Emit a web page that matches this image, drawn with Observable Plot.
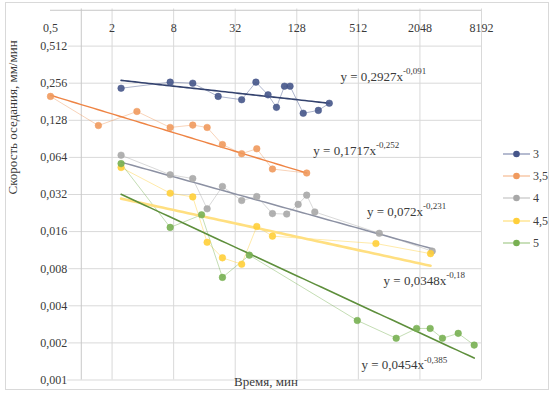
<!DOCTYPE html>
<html>
<head>
<meta charset="utf-8">
<script src="https://cdn.jsdelivr.net/npm/d3@7"></script>
<script src="https://cdn.jsdelivr.net/npm/@observablehq/plot@0.6"></script>
<style>
  html, body { margin: 0; padding: 0; background: #fff; }
  #wrap { position: relative; width: 553px; height: 396px; overflow: hidden; font-family: "Liberation Serif", "DejaVu Serif", serif; }
  #frame { position: absolute; left: 5px; top: 2px; width: 544px; height: 388px; border: 1px solid #d9d9d9; box-sizing: border-box; pointer-events: none; }
  #chart { position: absolute; left: 0; top: 0; }
  #chart svg, #chart text { font-family: "Liberation Serif", "DejaVu Serif", serif !important; }
  #legend { position: absolute; left: 0; top: 0; }
  .li { position: absolute; height: 14px; font-size: 12px; color: #404040; line-height: 14px; font-family: "Liberation Serif", "DejaVu Serif", serif; }
</style>
</head>
<body>
<div id="wrap">
  <div id="chart"></div>
  <div id="legend"></div>
  <div id="frame"></div>
</div>
<script>
// ---- data ----
const seriesNames = ["3", "3,5", "4", "4,5", "5"];
const dotColors   = ["#46568A", "#F09A5E", "#A8A8A8", "#FFCF3A", "#78B052"];
const trendColors = ["#33426E", "#EE8444", "#8C91A3", "#FFDF80", "#5E8F3C"];
const trendWidths = [1.6, 1.4, 1.5, 2.6, 1.6];

const x3  = [2.45, 7.4, 12.3, 21.8, 37, 51, 67, 81, 97, 110, 148, 208, 266];
const y3  = [0.233, 0.261, 0.256, 0.2, 0.188, 0.261, 0.206, 0.163, 0.242, 0.242, 0.146, 0.154, 0.176];
const x35 = [0.5, 1.47, 3.5, 7.4, 12.3, 17, 24, 37, 52, 74, 160];
const y35 = [0.2, 0.116, 0.151, 0.112, 0.117, 0.112, 0.0814, 0.0686, 0.0752, 0.0515, 0.0478];
const x4  = [2.45, 7.4, 12.3, 17, 24, 37, 52, 74, 102, 132, 160, 192, 820, 2700];
const y4  = [0.0667, 0.0463, 0.0431, 0.0245, 0.0372, 0.0286, 0.0308, 0.0224, 0.0222, 0.0266, 0.0316, 0.0231, 0.0155, 0.0111];
const x45 = [2.45, 7.4, 12.3, 17, 24, 37, 52, 74, 760, 2600];
const y45 = [0.053, 0.0328, 0.0306, 0.0131, 0.0098, 0.0087, 0.0176, 0.0147, 0.0128, 0.0106];
const x5  = [2.45, 7.4, 15, 24, 44, 500, 1200, 1900, 2580, 3400, 4850, 6950];
const y5  = [0.057, 0.0173, 0.0219, 0.0068, 0.0103, 0.00304, 0.00218, 0.00262, 0.00262, 0.00218, 0.00239, 0.00192];

// power trendlines y = a * x^b (from the equation labels)
const trendA = [0.2927, 0.1717, 0.072, 0.0348, 0.0454];
const trendB = [-0.091, -0.252, -0.231, -0.18, -0.385];
const eqBase = ["y = 0,2927x", "y = 0,1717x", "y = 0,072x", "y = 0,0348x", "y = 0,0454x"];
const eqExp  = ["-0,091", "-0,252", "-0,231", "-0,18", "-0,385"];
// label anchor (data units): where base text ends and exponent starts
const eqAtX = [1400, 760, 2200, 3700, 2250];
const eqAtY = [0.288, 0.073, 0.0233, 0.0064, 0.00132];

const xTicks = [0.5, 2, 8, 32, 128, 512, 2048, 8192];
const xTickLabels = ["0,5", "2", "8", "32", "128", "512", "2048", "8192"];
const xGrid = [2, 8, 32, 128, 512, 2048, 8192];
const yTicks = [0.001, 0.002, 0.004, 0.008, 0.016, 0.032, 0.064, 0.128, 0.256, 0.512];
const yTickLabels = ["0,001", "0,002", "0,004", "0,008", "0,016", "0,032", "0,064", "0,128", "0,256", "0,512"];
const xTitle = "Время, мин";
const yTitle = "Скорость оседания, мм/мин";

// ---- build tables ----
const xs = [x3, x35, x4, x45, x5];
const ys = [y3, y35, y4, y45, y5];
const points = [];
xs.forEach((arr, i) => arr.forEach((x, j) => points.push({s: seriesNames[i], i, x, y: ys[i][j]})));
const trend = [];
xs.forEach((arr, i) => {
  const lo = Math.log(d3.min(arr)), hi = Math.log(d3.max(arr));
  for (let k = 0; k <= 60; k++) {
    const x = Math.exp(lo + (hi - lo) * k / 60);
    trend.push({s: seriesNames[i], i, x, y: trendA[i] * Math.pow(x, trendB[i])});
  }
});
const eqs = seriesNames.map((s, i) => ({s, i, x: eqAtX[i], y: eqAtY[i], base: eqBase[i], exp: eqExp[i]}));

const textColor = "#3a3a3a";
const FONT = "Liberation Serif, DejaVu Serif, serif";

const chart = Plot.plot({
  width: 553, height: 396,
  marginLeft: 50, marginRight: 72, marginTop: 8.5, marginBottom: 16.5,
  x: {type: "log", base: 2, domain: [0.5, 8192], axis: null},
  y: {type: "log", base: 2, domain: [0.001, 1.024], axis: null},
  style: {fontFamily: FONT, background: "transparent", overflow: "visible"},
  marks: [
    Plot.ruleY(yTicks, {y: d => d, stroke: "#d9d9d9", strokeWidth: 1}),
    Plot.ruleX(xGrid, {x: d => d, stroke: "#d9d9d9", strokeWidth: 1}),
    Plot.ruleX([1], {x: d => d, stroke: "#c8c8c8", strokeWidth: 1}),
    Plot.ruleY([1], {y: d => d, stroke: "#c8c8c8", strokeWidth: 1}),
    // tick labels
    Plot.text(yTicks, {y: d => d, x: () => 1, dx: -14, text: (d, k) => yTickLabels[k], textAnchor: "end",
      fontSize: 12, fontFamily: FONT, fill: textColor, stroke: "white", strokeWidth: 4}),
    Plot.text(xTicks, {x: d => d, y: () => 1, dy: 17.5, text: (d, k) => xTickLabels[k], fontSize: 12, fontFamily: FONT, fill: textColor}),
    // connecting lines
    Plot.line(points, {x: "x", y: "y", z: "s", stroke: d => dotColors[d.i], strokeWidth: 0.8, strokeOpacity: 0.55, sort: "x"}),
    // trendlines
    Plot.line(trend, {x: "x", y: "y", z: "s", stroke: d => trendColors[d.i], strokeWidth: d => trendWidths[d.i]}),
    // markers
    Plot.dot(points, {x: "x", y: "y", r: 3.3, fill: d => dotColors[d.i], stroke: d => dotColors[d.i], strokeWidth: 0.5, fillOpacity: 0.9}),
    // equations
    Plot.text(eqs, {x: "x", y: "y", text: "base", textAnchor: "end", fontSize: 13, fontFamily: FONT, fill: textColor}),
    Plot.text(eqs, {x: "x", y: "y", text: "exp", textAnchor: "start", dy: -5.5, fontSize: 9, fontFamily: FONT, fill: textColor}),
    // axis titles
    Plot.text([xTitle], {frameAnchor: "bottom", dy: 6, text: d => d, fontSize: 13, fontFamily: FONT, fill: textColor}),
    Plot.text([yTitle], {frameAnchor: "left", dx: -38, text: d => d, rotate: -90, fontSize: 13, fontFamily: FONT, fill: textColor})
  ]
});
document.getElementById("chart").appendChild(chart);

// legend (HTML, to the right of the plot)
const legend = document.getElementById("legend");
const legendTop = [154, 176, 198, 220.5, 243];
seriesNames.forEach((s, i) => {
  const item = document.createElement("div");
  item.className = "li";
  item.style.left = "503px";
  item.style.top = (legendTop[i] - 7) + "px";
  item.innerHTML = `<svg width="28" height="14" style="position:absolute;left:0;top:0">
    <line x1="0" y1="7" x2="27" y2="7" stroke="${dotColors[i]}" stroke-width="1" stroke-opacity="0.8"/>
    <circle cx="13.5" cy="7" r="3.3" fill="${dotColors[i]}"/></svg>
    <span style="position:absolute;left:30px;top:0;white-space:nowrap">${s}</span>`;
  legend.appendChild(item);
});
</script>
</body>
</html>
